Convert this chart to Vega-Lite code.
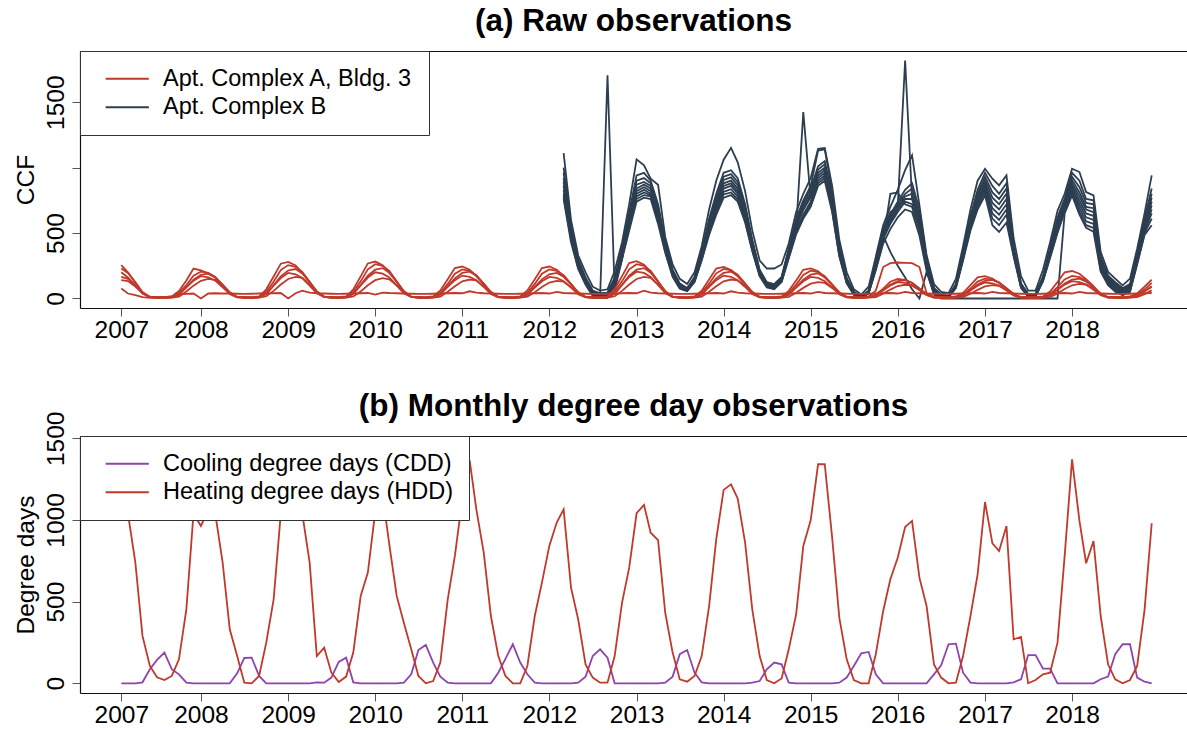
{
  "$schema": "https://vega.github.io/schema/vega-lite/v6.json",
  "background": "white",
  "padding": {"left": 13, "top": 6, "right": 0, "bottom": 0},
  "spacing": 48,
  "config": {
    "font": "Liberation Sans",
    "view": {"stroke": null},
    "axis": {
      "grid": false,
      "labelFont": "Liberation Sans",
      "labelFontSize": 24.5,
      "labelColor": "black",
      "titleFont": "Liberation Sans",
      "titleFontSize": 24.5,
      "titleFontWeight": "normal",
      "titleColor": "black",
      "tickColor": "#555555",
      "tickSize": 8,
      "tickWidth": 1,
      "domainColor": "#111111",
      "domainWidth": 1.2
    },
    "title": {"font": "Liberation Sans", "fontSize": 31.5, "fontWeight": "bold", "color": "black", "anchor": "middle", "frame": "group", "baseline": "alphabetic"},
    "legend": {
      "orient": "none", "legendX": 0, "legendY": 0, "title": null,
      "symbolType": "M-3.6,0H3.6", "symbolSize": 144, "symbolStrokeWidth": 2,
      "labelFont": "Liberation Sans", "labelFontSize": 23.5, "labelColor": "black", "labelLimit": 600,
      "padding": 16, "rowPadding": 3.5, "labelOffset": 24, "symbolOffset": 19.5,
      "strokeColor": "#333333", "fillColor": "white", "cornerRadius": 0
    }
  },
  "datasets": {
    "aptA_weather": [
      {"date":"2007-02","a1":254,"a2":229,"a3":165,"a4":200,"a5":140,"a6":76,"cdd":0,"hdd":1150},
      {"date":"2007-03","a1":200,"a2":195,"a3":150,"a4":160,"a5":133,"a6":38,"cdd":0,"hdd":1040},
      {"date":"2007-04","a1":120,"a2":125,"a3":100,"a4":100,"a5":91,"a6":25,"cdd":0,"hdd":741},
      {"date":"2007-05","a1":40,"a2":50,"a3":45,"a4":38,"a5":42,"a6":10,"cdd":6,"hdd":290},
      {"date":"2007-06","a1":13,"a2":12,"a3":11,"a4":10,"a5":11,"a6":5,"cdd":86,"hdd":106},
      {"date":"2007-07","a1":12,"a2":8,"a3":5,"a4":10,"a5":4,"a6":5,"cdd":143,"hdd":37},
      {"date":"2007-08","a1":10,"a2":6,"a3":5,"a4":8,"a5":3,"a6":10,"cdd":188,"hdd":20},
      {"date":"2007-09","a1":15,"a2":10,"a3":8,"a4":12,"a5":6,"a6":15,"cdd":86,"hdd":45},
      {"date":"2007-10","a1":57,"a2":41,"a3":29,"a4":31,"a5":15,"a6":30,"cdd":55,"hdd":147},
      {"date":"2007-11","a1":137,"a2":103,"a3":86,"a4":85,"a5":53,"a6":35,"cdd":4,"hdd":453},
      {"date":"2007-12","a1":229,"a2":174,"a3":143,"a4":136,"a5":98,"a6":38,"cdd":0,"hdd":1040},
      {"date":"2008-01","a1":215,"a2":205,"a3":181,"a4":170,"a5":135,"a6":0,"cdd":0,"hdd":963},
      {"date":"2008-02","a1":190,"a2":195,"a3":190,"a4":162,"a5":150,"a6":38,"cdd":0,"hdd":1060},
      {"date":"2008-03","a1":160,"a2":164,"a3":162,"a4":136,"a5":143,"a6":40,"cdd":0,"hdd":1040},
      {"date":"2008-04","a1":103,"a2":103,"a3":105,"a4":85,"a5":98,"a6":38,"cdd":0,"hdd":741},
      {"date":"2008-05","a1":34,"a2":41,"a3":48,"a4":34,"a5":45,"a6":38,"cdd":0,"hdd":331},
      {"date":"2008-06","a1":11,"a2":10,"a3":11,"a4":9,"a5":12,"a6":36,"cdd":61,"hdd":167},
      {"date":"2008-07","a1":12,"a2":8,"a3":5,"a4":10,"a5":4,"a6":35,"cdd":155,"hdd":4},
      {"date":"2008-08","a1":10,"a2":6,"a3":5,"a4":8,"a5":3,"a6":36,"cdd":157,"hdd":0},
      {"date":"2008-09","a1":15,"a2":10,"a3":8,"a4":12,"a5":6,"a6":38,"cdd":45,"hdd":45},
      {"date":"2008-10","a1":70,"a2":51,"a3":34,"a4":35,"a5":17,"a6":40,"cdd":0,"hdd":249},
      {"date":"2008-11","a1":168,"a2":128,"a3":101,"a4":98,"a5":58,"a6":40,"cdd":0,"hdd":514},
      {"date":"2008-12","a1":266,"a2":217,"a3":169,"a4":156,"a5":107,"a6":42,"cdd":0,"hdd":1040},
      {"date":"2009-01","a1":280,"a2":255,"a3":214,"a4":195,"a5":149,"a6":0,"cdd":0,"hdd":1200},
      {"date":"2009-02","a1":252,"a2":242,"a3":225,"a4":185,"a5":165,"a6":40,"cdd":0,"hdd":1180},
      {"date":"2009-03","a1":196,"a2":204,"a3":191,"a4":156,"a5":157,"a6":60,"cdd":0,"hdd":1040},
      {"date":"2009-04","a1":126,"a2":128,"a3":124,"a4":98,"a5":107,"a6":45,"cdd":0,"hdd":739},
      {"date":"2009-05","a1":42,"a2":51,"a3":56,"a4":39,"a5":50,"a6":40,"cdd":6,"hdd":167},
      {"date":"2009-06","a1":14,"a2":13,"a3":14,"a4":10,"a5":13,"a6":38,"cdd":4,"hdd":218},
      {"date":"2009-07","a1":12,"a2":8,"a3":5,"a4":10,"a5":4,"a6":36,"cdd":35,"hdd":65},
      {"date":"2009-08","a1":10,"a2":6,"a3":5,"a4":8,"a5":3,"a6":35,"cdd":131,"hdd":8},
      {"date":"2009-09","a1":15,"a2":10,"a3":8,"a4":12,"a5":6,"a6":36,"cdd":157,"hdd":41},
      {"date":"2009-10","a1":70,"a2":52,"a3":35,"a4":36,"a5":16,"a6":38,"cdd":6,"hdd":188},
      {"date":"2009-11","a1":169,"a2":131,"a3":104,"a4":100,"a5":54,"a6":40,"cdd":0,"hdd":535},
      {"date":"2009-12","a1":268,"a2":223,"a3":174,"a4":160,"a5":101,"a6":42,"cdd":0,"hdd":678},
      {"date":"2010-01","a1":282,"a2":262,"a3":220,"a4":200,"a5":140,"a6":30,"cdd":0,"hdd":1050},
      {"date":"2010-02","a1":254,"a2":249,"a3":232,"a4":190,"a5":155,"a6":45,"cdd":0,"hdd":1150},
      {"date":"2010-03","a1":197,"a2":210,"a3":197,"a4":160,"a5":147,"a6":42,"cdd":0,"hdd":850},
      {"date":"2010-04","a1":127,"a2":131,"a3":128,"a4":100,"a5":101,"a6":40,"cdd":0,"hdd":535},
      {"date":"2010-05","a1":42,"a2":52,"a3":58,"a4":40,"a5":47,"a6":38,"cdd":4,"hdd":371},
      {"date":"2010-06","a1":14,"a2":13,"a3":14,"a4":10,"a5":12,"a6":36,"cdd":55,"hdd":208},
      {"date":"2010-07","a1":12,"a2":8,"a3":5,"a4":10,"a5":4,"a6":35,"cdd":204,"hdd":45},
      {"date":"2010-08","a1":10,"a2":6,"a3":5,"a4":8,"a5":3,"a6":35,"cdd":235,"hdd":0},
      {"date":"2010-09","a1":15,"a2":10,"a3":8,"a4":12,"a5":6,"a6":36,"cdd":127,"hdd":14},
      {"date":"2010-10","a1":61,"a2":44,"a3":31,"a4":32,"a5":15,"a6":38,"cdd":41,"hdd":127},
      {"date":"2010-11","a1":146,"a2":111,"a3":92,"a4":88,"a5":51,"a6":40,"cdd":4,"hdd":514},
      {"date":"2010-12","a1":232,"a2":189,"a3":154,"a4":140,"a5":94,"a6":42,"cdd":0,"hdd":780},
      {"date":"2011-01","a1":244,"a2":222,"a3":195,"a4":175,"a5":131,"a6":40,"cdd":0,"hdd":1127},
      {"date":"2011-02","a1":220,"a2":211,"a3":205,"a4":166,"a5":145,"a6":55,"cdd":0,"hdd":1365},
      {"date":"2011-03","a1":171,"a2":178,"a3":174,"a4":140,"a5":138,"a6":45,"cdd":0,"hdd":1065},
      {"date":"2011-04","a1":110,"a2":111,"a3":113,"a4":88,"a5":94,"a6":40,"cdd":0,"hdd":800},
      {"date":"2011-05","a1":37,"a2":44,"a3":51,"a4":35,"a5":44,"a6":38,"cdd":0,"hdd":412},
      {"date":"2011-06","a1":12,"a2":11,"a3":12,"a4":9,"a5":12,"a6":36,"cdd":65,"hdd":167},
      {"date":"2011-07","a1":12,"a2":8,"a3":5,"a4":10,"a5":4,"a6":35,"cdd":150,"hdd":45},
      {"date":"2011-08","a1":10,"a2":6,"a3":5,"a4":8,"a5":3,"a6":35,"cdd":239,"hdd":0},
      {"date":"2011-09","a1":15,"a2":10,"a3":8,"a4":12,"a5":6,"a6":36,"cdd":127,"hdd":0},
      {"date":"2011-10","a1":61,"a2":44,"a3":29,"a4":30,"a5":14,"a6":38,"cdd":55,"hdd":106},
      {"date":"2011-11","a1":146,"a2":111,"a3":88,"a4":83,"a5":47,"a6":40,"cdd":4,"hdd":412},
      {"date":"2011-12","a1":232,"a2":189,"a3":146,"a4":132,"a5":88,"a6":42,"cdd":0,"hdd":616},
      {"date":"2012-01","a1":244,"a2":222,"a3":185,"a4":165,"a5":122,"a6":38,"cdd":0,"hdd":841},
      {"date":"2012-02","a1":220,"a2":211,"a3":195,"a4":157,"a5":135,"a6":50,"cdd":0,"hdd":984},
      {"date":"2012-03","a1":171,"a2":178,"a3":166,"a4":132,"a5":128,"a6":42,"cdd":0,"hdd":1065},
      {"date":"2012-04","a1":110,"a2":111,"a3":107,"a4":83,"a5":88,"a6":40,"cdd":0,"hdd":586},
      {"date":"2012-05","a1":37,"a2":44,"a3":49,"a4":33,"a5":41,"a6":38,"cdd":4,"hdd":392},
      {"date":"2012-06","a1":12,"a2":11,"a3":12,"a4":8,"a5":11,"a6":36,"cdd":41,"hdd":116},
      {"date":"2012-07","a1":12,"a2":8,"a3":5,"a4":10,"a5":4,"a6":35,"cdd":167,"hdd":35},
      {"date":"2012-08","a1":10,"a2":6,"a3":5,"a4":8,"a5":3,"a6":35,"cdd":208,"hdd":4},
      {"date":"2012-09","a1":15,"a2":10,"a3":8,"a4":12,"a5":6,"a6":36,"cdd":157,"hdd":4},
      {"date":"2012-10","a1":71,"a2":52,"a3":35,"a4":37,"a5":17,"a6":38,"cdd":0,"hdd":167},
      {"date":"2012-11","a1":171,"a2":131,"a3":104,"a4":103,"a5":58,"a6":40,"cdd":0,"hdd":494},
      {"date":"2012-12","a1":271,"a2":223,"a3":174,"a4":164,"a5":107,"a6":42,"cdd":0,"hdd":708},
      {"date":"2013-01","a1":285,"a2":262,"a3":220,"a4":205,"a5":149,"a6":40,"cdd":0,"hdd":1041},
      {"date":"2013-02","a1":257,"a2":249,"a3":232,"a4":195,"a5":165,"a6":60,"cdd":0,"hdd":1092},
      {"date":"2013-03","a1":200,"a2":210,"a3":197,"a4":164,"a5":157,"a6":45,"cdd":0,"hdd":922},
      {"date":"2013-04","a1":128,"a2":131,"a3":128,"a4":103,"a5":107,"a6":40,"cdd":0,"hdd":877},
      {"date":"2013-05","a1":43,"a2":52,"a3":58,"a4":41,"a5":50,"a6":38,"cdd":4,"hdd":433},
      {"date":"2013-06","a1":14,"a2":13,"a3":14,"a4":10,"a5":13,"a6":36,"cdd":41,"hdd":188},
      {"date":"2013-07","a1":12,"a2":8,"a3":5,"a4":10,"a5":4,"a6":35,"cdd":178,"hdd":24},
      {"date":"2013-08","a1":10,"a2":6,"a3":5,"a4":8,"a5":3,"a6":35,"cdd":204,"hdd":10},
      {"date":"2013-09","a1":15,"a2":10,"a3":8,"a4":12,"a5":6,"a6":36,"cdd":65,"hdd":45},
      {"date":"2013-10","a1":60,"a2":45,"a3":31,"a4":32,"a5":15,"a6":38,"cdd":6,"hdd":167},
      {"date":"2013-11","a1":145,"a2":113,"a3":92,"a4":88,"a5":51,"a6":40,"cdd":0,"hdd":473},
      {"date":"2013-12","a1":229,"a2":192,"a3":154,"a4":140,"a5":94,"a6":42,"cdd":0,"hdd":882},
      {"date":"2014-01","a1":241,"a2":226,"a3":195,"a4":175,"a5":131,"a6":38,"cdd":0,"hdd":1184},
      {"date":"2014-02","a1":217,"a2":215,"a3":205,"a4":166,"a5":145,"a6":55,"cdd":0,"hdd":1218},
      {"date":"2014-03","a1":169,"a2":181,"a3":174,"a4":140,"a5":138,"a6":45,"cdd":0,"hdd":1131},
      {"date":"2014-04","a1":108,"a2":113,"a3":113,"a4":88,"a5":94,"a6":40,"cdd":0,"hdd":861},
      {"date":"2014-05","a1":36,"a2":45,"a3":51,"a4":35,"a5":44,"a6":38,"cdd":4,"hdd":453},
      {"date":"2014-06","a1":12,"a2":11,"a3":12,"a4":9,"a5":12,"a6":36,"cdd":14,"hdd":167},
      {"date":"2014-07","a1":12,"a2":8,"a3":5,"a4":10,"a5":4,"a6":35,"cdd":86,"hdd":20},
      {"date":"2014-08","a1":10,"a2":6,"a3":5,"a4":8,"a5":3,"a6":35,"cdd":127,"hdd":0},
      {"date":"2014-09","a1":15,"a2":10,"a3":8,"a4":12,"a5":6,"a6":36,"cdd":116,"hdd":29},
      {"date":"2014-10","a1":58,"a2":42,"a3":29,"a4":30,"a5":13,"a6":38,"cdd":4,"hdd":208},
      {"date":"2014-11","a1":138,"a2":106,"a3":86,"a4":83,"a5":44,"a6":40,"cdd":0,"hdd":422},
      {"date":"2014-12","a1":219,"a2":180,"a3":144,"a4":132,"a5":81,"a6":42,"cdd":0,"hdd":841},
      {"date":"2015-01","a1":230,"a2":212,"a3":182,"a4":165,"a5":113,"a6":38,"cdd":0,"hdd":998},
      {"date":"2015-02","a1":207,"a2":201,"a3":192,"a4":157,"a5":125,"a6":50,"cdd":0,"hdd":1341},
      {"date":"2015-03","a1":161,"a2":170,"a3":163,"a4":132,"a5":119,"a6":42,"cdd":0,"hdd":1341},
      {"date":"2015-04","a1":104,"a2":106,"a3":106,"a4":83,"a5":81,"a6":40,"cdd":0,"hdd":892},
      {"date":"2015-05","a1":35,"a2":42,"a3":48,"a4":33,"a5":38,"a6":38,"cdd":4,"hdd":402},
      {"date":"2015-06","a1":12,"a2":11,"a3":12,"a4":8,"a5":10,"a6":36,"cdd":35,"hdd":147},
      {"date":"2015-07","a1":12,"a2":8,"a3":5,"a4":10,"a5":4,"a6":35,"cdd":106,"hdd":20},
      {"date":"2015-08","a1":10,"a2":6,"a3":5,"a4":8,"a5":3,"a6":35,"cdd":184,"hdd":0},
      {"date":"2015-09","a1":15,"a2":10,"a3":8,"a4":12,"a5":6,"a6":36,"cdd":192,"hdd":0},
      {"date":"2015-10","a1":60,"a2":30,"a3":21,"a4":23,"a5":11,"a6":38,"cdd":55,"hdd":178},
      {"date":"2015-11","a1":240,"a2":75,"a3":63,"a4":63,"a5":37,"a6":40,"cdd":0,"hdd":443},
      {"date":"2015-12","a1":270,"a2":128,"a3":105,"a4":100,"a5":68,"a6":42,"cdd":0,"hdd":637},
      {"date":"2016-01","a1":275,"a2":150,"a3":133,"a4":125,"a5":95,"a6":38,"cdd":0,"hdd":769},
      {"date":"2016-02","a1":272,"a2":143,"a3":140,"a4":119,"a5":105,"a6":50,"cdd":0,"hdd":957},
      {"date":"2016-03","a1":270,"a2":120,"a3":119,"a4":100,"a5":100,"a6":42,"cdd":0,"hdd":994},
      {"date":"2016-04","a1":240,"a2":75,"a3":77,"a4":63,"a5":68,"a6":40,"cdd":0,"hdd":647},
      {"date":"2016-05","a1":40,"a2":30,"a3":35,"a4":25,"a5":32,"a6":38,"cdd":0,"hdd":473},
      {"date":"2016-06","a1":12,"a2":8,"a3":8,"a4":6,"a5":8,"a6":36,"cdd":55,"hdd":116},
      {"date":"2016-07","a1":12,"a2":8,"a3":5,"a4":10,"a5":4,"a6":35,"cdd":110,"hdd":35},
      {"date":"2016-08","a1":10,"a2":6,"a3":5,"a4":8,"a5":3,"a6":35,"cdd":239,"hdd":0},
      {"date":"2016-09","a1":15,"a2":10,"a3":8,"a4":12,"a5":6,"a6":36,"cdd":243,"hdd":4},
      {"date":"2016-10","a1":43,"a2":30,"a3":21,"a4":22,"a5":10,"a6":38,"cdd":65,"hdd":167},
      {"date":"2016-11","a1":102,"a2":76,"a3":64,"a4":61,"a5":36,"a6":40,"cdd":4,"hdd":412},
      {"date":"2016-12","a1":162,"a2":129,"a3":107,"a4":98,"a5":66,"a6":42,"cdd":0,"hdd":667},
      {"date":"2017-01","a1":170,"a2":152,"a3":135,"a4":122,"a5":92,"a6":38,"cdd":0,"hdd":1110},
      {"date":"2017-02","a1":153,"a2":144,"a3":142,"a4":116,"a5":102,"a6":50,"cdd":0,"hdd":857},
      {"date":"2017-03","a1":119,"a2":122,"a3":121,"a4":98,"a5":97,"a6":42,"cdd":0,"hdd":810},
      {"date":"2017-04","a1":77,"a2":76,"a3":78,"a4":61,"a5":66,"a6":40,"cdd":0,"hdd":963},
      {"date":"2017-05","a1":26,"a2":30,"a3":36,"a4":24,"a5":31,"a6":38,"cdd":6,"hdd":269},
      {"date":"2017-06","a1":9,"a2":8,"a3":9,"a4":6,"a5":8,"a6":36,"cdd":25,"hdd":284},
      {"date":"2017-07","a1":12,"a2":8,"a3":5,"a4":10,"a5":4,"a6":35,"cdd":173,"hdd":0},
      {"date":"2017-08","a1":10,"a2":6,"a3":5,"a4":8,"a5":3,"a6":35,"cdd":173,"hdd":20},
      {"date":"2017-09","a1":15,"a2":10,"a3":8,"a4":12,"a5":6,"a6":36,"cdd":90,"hdd":55},
      {"date":"2017-10","a1":53,"a2":34,"a3":23,"a4":24,"a5":11,"a6":38,"cdd":90,"hdd":65},
      {"date":"2017-11","a1":126,"a2":86,"a3":68,"a4":66,"a5":39,"a6":40,"cdd":0,"hdd":249},
      {"date":"2017-12","a1":200,"a2":146,"a3":114,"a4":106,"a5":73,"a6":42,"cdd":0,"hdd":780},
      {"date":"2018-01","a1":210,"a2":172,"a3":144,"a4":132,"a5":101,"a6":38,"cdd":0,"hdd":1371},
      {"date":"2018-02","a1":189,"a2":163,"a3":152,"a4":125,"a5":112,"a6":50,"cdd":0,"hdd":994},
      {"date":"2018-03","a1":147,"a2":138,"a3":129,"a4":106,"a5":106,"a6":42,"cdd":0,"hdd":735},
      {"date":"2018-04","a1":95,"a2":86,"a3":84,"a4":66,"a5":73,"a6":40,"cdd":0,"hdd":871},
      {"date":"2018-05","a1":32,"a2":34,"a3":38,"a4":26,"a5":34,"a6":38,"cdd":25,"hdd":412},
      {"date":"2018-06","a1":11,"a2":9,"a3":9,"a4":7,"a5":9,"a6":36,"cdd":41,"hdd":116},
      {"date":"2018-07","a1":12,"a2":8,"a3":5,"a4":10,"a5":4,"a6":35,"cdd":178,"hdd":24},
      {"date":"2018-08","a1":10,"a2":6,"a3":5,"a4":8,"a5":3,"a6":35,"cdd":239,"hdd":0},
      {"date":"2018-09","a1":15,"a2":10,"a3":8,"a4":12,"a5":6,"a6":36,"cdd":239,"hdd":20},
      {"date":"2018-10","a1":38,"a2":28,"a3":19,"a4":20,"a5":10,"a6":38,"cdd":35,"hdd":106},
      {"date":"2018-11","a1":90,"a2":70,"a3":56,"a4":55,"a5":33,"a6":40,"cdd":10,"hdd":450},
      {"date":"2018-12","a1":143,"a2":119,"a3":94,"a4":88,"a5":62,"a6":42,"cdd":0,"hdd":980}
    ],
    "aptB": [
      {"date":"2012-03","b1":1110,"b2":1000,"b3":960,"b4":920,"b5":890,"b6":860,"b7":830,"b8":800,"b9":780,"b10":760},
      {"date":"2012-04","b1":600,"b2":560,"b3":540,"b4":520,"b5":500,"b6":490,"b7":470,"b8":460,"b9":450,"b10":430},
      {"date":"2012-05","b1":330,"b2":300,"b3":290,"b4":280,"b5":270,"b6":260,"b7":250,"b8":245,"b9":235,"b10":225},
      {"date":"2012-06","b1":200,"b2":160,"b3":150,"b4":145,"b5":140,"b6":135,"b7":130,"b8":120,"b9":115,"b10":105},
      {"date":"2012-07","b1":90,"b2":60,"b3":55,"b4":50,"b5":45,"b6":40,"b7":35,"b8":30,"b9":25,"b10":20},
      {"date":"2012-08","b1":60,"b2":40,"b3":35,"b4":10,"b5":30,"b6":25,"b7":20,"b8":15,"b9":10,"b10":5},
      {"date":"2012-09","b1":70,"b2":45,"b3":40,"b4":1705,"b5":30,"b6":25,"b7":20,"b8":15,"b9":10,"b10":5},
      {"date":"2012-10","b1":210,"b2":160,"b3":150,"b4":60,"b5":140,"b6":130,"b7":125,"b8":115,"b9":110,"b10":100},
      {"date":"2012-11","b1":430,"b2":390,"b3":370,"b4":300,"b5":350,"b6":340,"b7":330,"b8":320,"b9":310,"b10":300},
      {"date":"2012-12","b1":720,"b2":660,"b3":640,"b4":610,"b5":600,"b6":585,"b7":570,"b8":555,"b9":540,"b10":520},
      {"date":"2013-01","b1":1063,"b2":940,"b3":900,"b4":870,"b5":840,"b6":820,"b7":800,"b8":780,"b9":760,"b10":740},
      {"date":"2013-02","b1":1017,"b2":960,"b3":920,"b4":890,"b5":870,"b6":850,"b7":830,"b8":810,"b9":790,"b10":770},
      {"date":"2013-03","b1":915,"b2":900,"b3":880,"b4":860,"b5":840,"b6":820,"b7":800,"b8":790,"b9":780,"b10":760},
      {"date":"2013-04","b1":869,"b2":720,"b3":700,"b4":680,"b5":660,"b6":640,"b7":620,"b8":600,"b9":590,"b10":570},
      {"date":"2013-05","b1":470,"b2":440,"b3":420,"b4":410,"b5":400,"b6":390,"b7":380,"b8":370,"b9":360,"b10":350},
      {"date":"2013-06","b1":260,"b2":220,"b3":210,"b4":205,"b5":200,"b6":195,"b7":185,"b8":180,"b9":175,"b10":165},
      {"date":"2013-07","b1":150,"b2":115,"b3":110,"b4":105,"b5":100,"b6":95,"b7":90,"b8":85,"b9":80,"b10":75},
      {"date":"2013-08","b1":110,"b2":80,"b3":75,"b4":72,"b5":70,"b6":68,"b7":65,"b8":60,"b9":58,"b10":55},
      {"date":"2013-09","b1":200,"b2":165,"b3":160,"b4":155,"b5":150,"b6":145,"b7":140,"b8":135,"b9":130,"b10":125},
      {"date":"2013-10","b1":400,"b2":360,"b3":350,"b4":340,"b5":330,"b6":320,"b7":315,"b8":305,"b9":300,"b10":290},
      {"date":"2013-11","b1":680,"b2":610,"b3":590,"b4":575,"b5":560,"b6":545,"b7":530,"b8":515,"b9":500,"b10":485},
      {"date":"2013-12","b1":900,"b2":800,"b3":770,"b4":750,"b5":730,"b6":715,"b7":700,"b8":680,"b9":660,"b10":640},
      {"date":"2014-01","b1":1060,"b2":960,"b3":930,"b4":905,"b5":880,"b6":860,"b7":840,"b8":815,"b9":795,"b10":770},
      {"date":"2014-02","b1":1151,"b2":980,"b3":950,"b4":925,"b5":900,"b6":880,"b7":860,"b8":835,"b9":810,"b10":790},
      {"date":"2014-03","b1":1040,"b2":920,"b3":890,"b4":865,"b5":840,"b6":820,"b7":800,"b8":780,"b9":760,"b10":740},
      {"date":"2014-04","b1":820,"b2":720,"b3":700,"b4":680,"b5":660,"b6":645,"b7":630,"b8":610,"b9":595,"b10":580},
      {"date":"2014-05","b1":520,"b2":450,"b3":435,"b4":420,"b5":410,"b6":400,"b7":390,"b8":380,"b9":370,"b10":360},
      {"date":"2014-06","b1":290,"b2":220,"b3":210,"b4":205,"b5":200,"b6":195,"b7":190,"b8":180,"b9":175,"b10":170},
      {"date":"2014-07","b1":229,"b2":125,"b3":120,"b4":115,"b5":110,"b6":105,"b7":100,"b8":95,"b9":90,"b10":85},
      {"date":"2014-08","b1":229,"b2":110,"b3":105,"b4":100,"b5":95,"b6":90,"b7":85,"b8":80,"b9":75,"b10":70},
      {"date":"2014-09","b1":260,"b2":165,"b3":160,"b4":155,"b5":150,"b6":145,"b7":140,"b8":135,"b9":130,"b10":125},
      {"date":"2014-10","b1":420,"b2":380,"b3":370,"b4":360,"b5":350,"b6":340,"b7":330,"b8":320,"b9":315,"b10":305},
      {"date":"2014-11","b1":660,"b2":610,"b3":590,"b4":575,"b5":560,"b6":545,"b7":530,"b8":520,"b9":505,"b10":490},
      {"date":"2014-12","b1":800,"b2":750,"b3":730,"b4":710,"b5":690,"b6":675,"b7":1424,"b8":640,"b9":625,"b10":610},
      {"date":"2015-01","b1":920,"b2":860,"b3":840,"b4":815,"b5":790,"b6":775,"b7":760,"b8":740,"b9":720,"b10":700},
      {"date":"2015-02","b1":1144,"b2":1130,"b3":1010,"b4":985,"b5":960,"b6":940,"b7":920,"b8":900,"b9":880,"b10":860},
      {"date":"2015-03","b1":1150,"b2":1140,"b3":1050,"b4":1025,"b5":1000,"b6":980,"b7":960,"b8":940,"b9":920,"b10":900},
      {"date":"2015-04","b1":860,"b2":820,"b3":790,"b4":760,"b5":740,"b6":725,"b7":710,"b8":690,"b9":675,"b10":660},
      {"date":"2015-05","b1":450,"b2":400,"b3":390,"b4":380,"b5":370,"b6":360,"b7":350,"b8":340,"b9":330,"b10":320},
      {"date":"2015-06","b1":200,"b2":155,"b3":150,"b4":145,"b5":140,"b6":135,"b7":130,"b8":125,"b9":120,"b10":115},
      {"date":"2015-07","b1":70,"b2":50,"b3":45,"b4":42,"b5":40,"b6":38,"b7":35,"b8":32,"b9":30,"b10":28},
      {"date":"2015-08","b1":30,"b2":15,"b3":12,"b4":10,"b5":10,"b6":8,"b7":6,"b8":5,"b9":4,"b10":3},
      {"date":"2015-09","b1":90,"b2":60,"b3":55,"b4":52,"b5":50,"b6":48,"b7":45,"b8":42,"b9":40,"b10":38},
      {"date":"2015-10","b1":320,"b2":280,"b3":270,"b4":260,"b5":250,"b6":240,"b7":235,"b8":225,"b9":230,"b10":215},
      {"date":"2015-11","b1":560,"b2":530,"b3":510,"b4":495,"b5":480,"b6":465,"b7":455,"b8":440,"b9":480,"b10":420},
      {"date":"2015-12","b1":700,"b2":660,"b3":640,"b4":620,"b5":600,"b6":585,"b7":570,"b8":800,"b9":356,"b10":530},
      {"date":"2016-01","b1":830,"b2":700,"b3":740,"b4":720,"b5":700,"b6":680,"b7":660,"b8":810,"b9":250,"b10":620},
      {"date":"2016-02","b1":980,"b2":1818,"b3":830,"b4":800,"b5":780,"b6":760,"b7":740,"b8":720,"b9":160,"b10":680},
      {"date":"2016-03","b1":1093,"b2":760,"b3":880,"b4":840,"b5":800,"b6":760,"b7":720,"b8":700,"b9":70,"b10":661},
      {"date":"2016-04","b1":712,"b2":640,"b3":680,"b4":640,"b5":600,"b6":570,"b7":540,"b8":520,"b9":0,"b10":480},
      {"date":"2016-05","b1":330,"b2":300,"b3":310,"b4":290,"b5":280,"b6":260,"b7":240,"b8":230,"b9":203,"b10":210},
      {"date":"2016-06","b1":110,"b2":80,"b3":75,"b4":70,"b5":70,"b6":65,"b7":60,"b8":50,"b9":40,"b10":30},
      {"date":"2016-07","b1":50,"b2":30,"b3":28,"b4":25,"b5":25,"b6":22,"b7":20,"b8":18,"b9":15,"b10":0},
      {"date":"2016-08","b1":40,"b2":20,"b3":18,"b4":15,"b5":15,"b6":12,"b7":10,"b8":10,"b9":8,"b10":0},
      {"date":"2016-09","b1":150,"b2":110,"b3":105,"b4":100,"b5":100,"b6":95,"b7":90,"b8":85,"b9":80,"b10":0},
      {"date":"2016-10","b1":400,"b2":360,"b3":350,"b4":340,"b5":330,"b6":320,"b7":310,"b8":300,"b9":290,"b10":0},
      {"date":"2016-11","b1":680,"b2":630,"b3":610,"b4":595,"b5":580,"b6":565,"b7":550,"b8":535,"b9":520,"b10":0},
      {"date":"2016-12","b1":900,"b2":830,"b3":800,"b4":780,"b5":760,"b6":740,"b7":720,"b8":700,"b9":680,"b10":0},
      {"date":"2017-01","b1":991,"b2":960,"b3":930,"b4":905,"b5":880,"b6":860,"b7":840,"b8":815,"b9":788,"b10":0},
      {"date":"2017-02","b1":915,"b2":860,"b3":810,"b4":770,"b5":730,"b6":690,"b7":650,"b8":610,"b9":560,"b10":0},
      {"date":"2017-03","b1":864,"b2":800,"b3":760,"b4":720,"b5":680,"b6":640,"b7":600,"b8":560,"b9":508,"b10":0},
      {"date":"2017-04","b1":940,"b2":880,"b3":840,"b4":800,"b5":760,"b6":720,"b7":680,"b8":640,"b9":580,"b10":0},
      {"date":"2017-05","b1":460,"b2":400,"b3":380,"b4":370,"b5":360,"b6":350,"b7":340,"b8":330,"b9":320,"b10":0},
      {"date":"2017-06","b1":170,"b2":115,"b3":110,"b4":105,"b5":100,"b6":95,"b7":90,"b8":85,"b9":80,"b10":0},
      {"date":"2017-07","b1":60,"b2":35,"b3":30,"b4":28,"b5":25,"b6":22,"b7":20,"b8":18,"b9":15,"b10":0},
      {"date":"2017-08","b1":60,"b2":35,"b3":30,"b4":28,"b5":25,"b6":22,"b7":20,"b8":18,"b9":15,"b10":0},
      {"date":"2017-09","b1":220,"b2":170,"b3":160,"b4":155,"b5":150,"b6":145,"b7":140,"b8":135,"b9":130,"b10":0},
      {"date":"2017-10","b1":430,"b2":390,"b3":370,"b4":360,"b5":350,"b6":340,"b7":330,"b8":320,"b9":310,"b10":0},
      {"date":"2017-11","b1":670,"b2":620,"b3":600,"b4":580,"b5":560,"b6":545,"b7":530,"b8":515,"b9":500,"b10":0},
      {"date":"2017-12","b1":800,"b2":763,"b3":740,"b4":720,"b5":700,"b6":690,"b7":680,"b8":670,"b9":661,"b10":650},
      {"date":"2018-01","b1":991,"b2":960,"b3":930,"b4":905,"b5":880,"b6":860,"b7":840,"b8":820,"b9":800,"b10":788},
      {"date":"2018-02","b1":966,"b2":900,"b3":850,"b4":810,"b5":780,"b6":750,"b7":720,"b8":690,"b9":661,"b10":640},
      {"date":"2018-03","b1":813,"b2":760,"b3":730,"b4":700,"b5":680,"b6":650,"b7":620,"b8":590,"b9":560,"b10":540},
      {"date":"2018-04","b1":788,"b2":750,"b3":720,"b4":690,"b5":660,"b6":630,"b7":600,"b8":570,"b9":540,"b10":510},
      {"date":"2018-05","b1":356,"b2":320,"b3":300,"b4":290,"b5":280,"b6":265,"b7":250,"b8":235,"b9":220,"b10":205},
      {"date":"2018-06","b1":203,"b2":175,"b3":165,"b4":155,"b5":150,"b6":140,"b7":130,"b8":120,"b9":110,"b10":102},
      {"date":"2018-07","b1":152,"b2":125,"b3":115,"b4":105,"b5":100,"b6":90,"b7":80,"b8":70,"b9":60,"b10":51},
      {"date":"2018-08","b1":100,"b2":80,"b3":70,"b4":65,"b5":60,"b6":55,"b7":50,"b8":45,"b9":35,"b10":25},
      {"date":"2018-09","b1":152,"b2":110,"b3":100,"b4":95,"b5":90,"b6":85,"b7":75,"b8":65,"b9":55,"b10":51},
      {"date":"2018-10","b1":380,"b2":340,"b3":330,"b4":320,"b5":310,"b6":300,"b7":290,"b8":280,"b9":270,"b10":260},
      {"date":"2018-11","b1":650,"b2":610,"b3":590,"b4":575,"b5":560,"b6":545,"b7":530,"b8":515,"b9":500,"b10":485},
      {"date":"2018-12","b1":940,"b2":840,"b3":800,"b4":770,"b5":740,"b6":710,"b7":680,"b8":650,"b9":610,"b10":559}
    ]
  },
  "resolve": {"scale": {"color": "independent"}},
  "vconcat": [
    {
      "title": {"text": "(a) Raw observations", "offset": 13},
      "width": 1107,
      "height": 257,
      "layer": [
        {
          "data": {"name": "aptB"},
          "transform": [{"fold": ["b1","b2","b3","b4","b5","b6","b7","b8","b9","b10"], "as": ["unit", "ccf"]}],
          "mark": {"type": "line", "strokeWidth": 1.8},
          "encoding": {
            "x": {
              "field": "date", "type": "temporal",
              "scale": {"type": "utc", "domain": [{"year": 2006, "month": 8, "date": 12, "utc": true}, {"year": 2019, "month": 4, "date": 28, "utc": true}]},
              "axis": {
                "orient": "bottom", "title": null, "labelOverlap": false, "labelFlush": false,
                "values": [{"year":2007,"month":2,"date":1,"utc":true},{"year":2008,"month":1,"date":1,"utc":true},{"year":2009,"month":1,"date":1,"utc":true},{"year":2010,"month":1,"date":1,"utc":true},{"year":2011,"month":1,"date":1,"utc":true},{"year":2012,"month":1,"date":1,"utc":true},{"year":2013,"month":1,"date":1,"utc":true},{"year":2014,"month":1,"date":1,"utc":true},{"year":2015,"month":1,"date":1,"utc":true},{"year":2016,"month":1,"date":1,"utc":true},{"year":2017,"month":1,"date":1,"utc":true},{"year":2018,"month":1,"date":1,"utc":true}],
                "labelExpr": "utcFormat(datum.value, '%Y')",
                "labelAlign": "center", "labelBaseline": "alphabetic", "labelPadding": 21
              }
            },
            "y": {
              "field": "ccf", "type": "quantitative",
              "scale": {"domain": [-72.7, 1890.7], "nice": false, "zero": false},
              "axis": {
                "title": "CCF", "values": [0, 500, 1000, 1500], "format": "d",
                "labelExpr": "datum.value === 1000 ? '' : datum.label",
                "labelAngle": 270, "labelAlign": "center", "labelBaseline": "alphabetic", "labelPadding": 8.7,
                "titleAngle": 270, "titleAlign": "center", "titleBaseline": "alphabetic", "titleX": -46.7, "titleY": 128.5
              }
            },
            "detail": {"field": "unit"},
            "color": {
              "datum": "Apt. Complex B", "type": "nominal",
              "scale": {"domain": ["Apt. Complex A, Bldg. 3", "Apt. Complex B"], "range": ["#c0392b", "#2c3e50"]}
            }
          }
        },
        {
          "data": {"name": "aptA_weather"},
          "transform": [{"fold": ["a1","a2","a3","a4","a5","a6"], "as": ["unit", "ccf"]}],
          "mark": {"type": "line", "strokeWidth": 1.8},
          "encoding": {
            "x": {"field": "date", "type": "temporal", "axis": {"orient": "top", "labels": false, "ticks": false, "title": null, "domain": true}},
            "y": {"field": "ccf", "type": "quantitative"},
            "detail": {"field": "unit"},
            "color": {"datum": "Apt. Complex A, Bldg. 3", "type": "nominal"}
          }
        }
      ],
      "resolve": {"axis": {"x": "independent"}}
    },
    {
      "title": {"text": "(b) Monthly degree day observations", "offset": -11.4},
      "width": 1107,
      "height": 257,
      "data": {"name": "aptA_weather"},
      "layer": [
        {
          "mark": {"type": "line", "strokeWidth": 1.8},
          "encoding": {
            "x": {
              "field": "date", "type": "temporal",
              "scale": {"type": "utc", "domain": [{"year": 2006, "month": 8, "date": 12, "utc": true}, {"year": 2019, "month": 4, "date": 28, "utc": true}]},
              "axis": {
                "orient": "bottom", "title": null, "labelOverlap": false, "labelFlush": false,
                "values": [{"year":2007,"month":2,"date":1,"utc":true},{"year":2008,"month":1,"date":1,"utc":true},{"year":2009,"month":1,"date":1,"utc":true},{"year":2010,"month":1,"date":1,"utc":true},{"year":2011,"month":1,"date":1,"utc":true},{"year":2012,"month":1,"date":1,"utc":true},{"year":2013,"month":1,"date":1,"utc":true},{"year":2014,"month":1,"date":1,"utc":true},{"year":2015,"month":1,"date":1,"utc":true},{"year":2016,"month":1,"date":1,"utc":true},{"year":2017,"month":1,"date":1,"utc":true},{"year":2018,"month":1,"date":1,"utc":true}],
                "labelExpr": "utcFormat(datum.value, '%Y')",
                "labelAlign": "center", "labelBaseline": "alphabetic", "labelPadding": 21
              }
            },
            "y": {
              "field": "cdd", "type": "quantitative",
              "scale": {"domain": [-59.4, 1514], "nice": false, "zero": false},
              "axis": {
                "title": "Degree days", "values": [0, 500, 1000, 1500], "format": "d",
                "labelAngle": 270, "labelAlign": "center", "labelBaseline": "alphabetic", "labelPadding": 8.7,
                "titleAngle": 270, "titleAlign": "center", "titleBaseline": "alphabetic", "titleX": -46.7, "titleY": 128.5
              }
            },
            "color": {
              "datum": "Cooling degree days (CDD)", "type": "nominal",
              "scale": {"domain": ["Cooling degree days (CDD)", "Heating degree days (HDD)"], "range": ["#8e44ad", "#c0392b"]}
            }
          }
        },
        {
          "mark": {"type": "line", "strokeWidth": 1.8},
          "encoding": {
            "x": {"field": "date", "type": "temporal", "axis": {"orient": "top", "labels": false, "ticks": false, "title": null, "domain": true}},
            "y": {"field": "hdd", "type": "quantitative"},
            "color": {"datum": "Heating degree days (HDD)", "type": "nominal"}
          }
        }
      ],
      "resolve": {"axis": {"x": "independent"}}
    }
  ]
}
